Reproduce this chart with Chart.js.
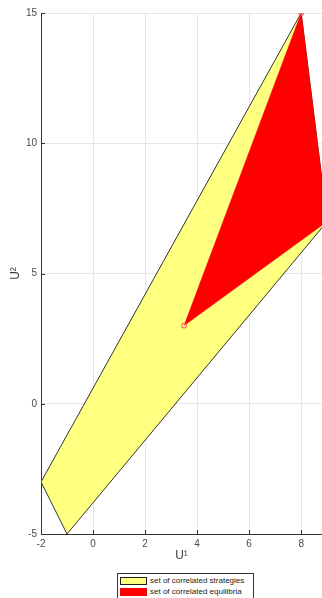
<!DOCTYPE html>
<html>
<head>
<meta charset="utf-8">
<script src="https://cdn.jsdelivr.net/npm/chart.js@4.4.1/dist/chart.umd.min.js"></script>
<style>
  html, body { margin: 0; padding: 0; background: #fff; overflow: hidden; }
  #wrap { position: relative; width: 322px; height: 598px; }
  #legenda {
    position: absolute; left: 117px; top: 573px; width: 135px; height: 30px;
    border: 1px solid #333; background: #fff;
    font: 8px "Liberation Sans", Arial, sans-serif; color: #222;
  }
  #legenda div { position: absolute; left: 2px; height: 10px; line-height: 10px; white-space: nowrap; }
  #legenda span { display: inline-block; width: 27px; height: 8px; vertical-align: middle; margin-right: 3px; box-sizing: border-box; }
</style>
</head>
<body>
<div id="wrap">
  <canvas id="grafico" width="322" height="598"></canvas>
  <div id="legenda"></div>
</div>
<script>
// Vertices dos conjuntos (U1, U2)
const estrategiasU1 = [-2, 8, 9, -1];
const estrategiasU2 = [-3, 15, 7, -5];
const equilibriosU1 = [3.5, 8, 9];
const equilibriosU2 = [3, 15, 7];
// Pontos marcados
const marcadosU1 = [3.5, 8];
const marcadosU2 = [3, 15];

const rotulos = ['set of correlated strategies', 'set of correlated equilibria'];
const ticksX = [-2, 0, 2, 4, 6, 8];
const ticksY = [-5, 0, 5, 10, 15];

function poligono(xs, ys) {
    const pts = xs.map((x, i) => ({ x: x, y: ys[i] }));
    pts.push(pts[0]); // fecha o poligono
    return pts;
}

// Marcas dos ticks para dentro (estilo MATLAB)
const ticksDentro = {
  id: 'ticksDentro',
  afterDraw(chart) {
    const { ctx, chartArea, scales: { x, y } } = chart;
    ctx.save();
    ctx.strokeStyle = '#333';
    ctx.lineWidth = 1;
    ctx.beginPath();
    ticksX.forEach(v => {
      const px = Math.round(x.getPixelForValue(v)) + 0.5;
      ctx.moveTo(px, chartArea.bottom);
      ctx.lineTo(px, chartArea.bottom - 4);
    });
    ticksY.forEach(v => {
      const py = Math.round(y.getPixelForValue(v)) + 0.5;
      ctx.moveTo(chartArea.left, py);
      ctx.lineTo(chartArea.left + 4, py);
    });
    ctx.stroke();
    ctx.restore();
  }
};

const fonte = { family: '"Liberation Sans", Arial, sans-serif', size: 10 };

const chart = new Chart(document.getElementById('grafico'), {
  type: 'scatter',
  data: {
    datasets: [
      {
        label: rotulos[0],
        data: poligono(estrategiasU1, estrategiasU2),
        order: 3,
        showLine: true,
        fill: 'shape',
        backgroundColor: '#ffff80',
        borderColor: '#333',
        borderWidth: 1,
        pointRadius: 0,
        tension: 0
      },
      {
        label: rotulos[1],
        data: poligono(equilibriosU1, equilibriosU2),
        order: 2,
        showLine: true,
        fill: 'shape',
        backgroundColor: '#ff0000',
        borderColor: '#ff0000',
        borderWidth: 0.5,
        pointRadius: 0,
        tension: 0
      },
      {
        label: 'pontos',
        data: marcadosU1.map((x, i) => ({ x: x, y: marcadosU2[i] })),
        order: 1,
        showLine: false,
        pointRadius: 2.5,
        pointBorderWidth: 1,
        pointBorderColor: '#ff4040',
        pointBackgroundColor: 'rgba(255,255,255,0.25)'
      }
    ]
  },
  options: {
    responsive: false,
    animation: false,
    layout: { autoPadding: false, padding: { top: 13, left: 8, right: 0, bottom: 35 } },
    plugins: { legend: { display: false }, tooltip: { enabled: false } },
    scales: {
      x: {
        type: 'linear',
        min: -2,
        max: 8.8,
        afterFit: s => { s.height = 29; s.paddingRight = 0; s.paddingLeft = 0; },
        afterBuildTicks: s => { s.ticks = ticksX.map(v => ({ value: v })); },
        ticks: { font: fonte, color: '#4a4a4a', padding: 4, includeBounds: false },
        grid: { color: '#e6e6e6', drawTicks: false },
        border: { display: true, color: '#333', width: 1 },
        title: { display: true, text: 'U¹', font: { family: fonte.family, size: 12 }, color: '#3a3a3a', padding: 0 }
      },
      y: {
        type: 'linear',
        min: -5,
        max: 15,
        afterFit: s => { s.width = 33; },
        afterBuildTicks: s => { s.ticks = ticksY.map(v => ({ value: v })); },
        ticks: { font: fonte, color: '#4a4a4a', padding: 4 },
        grid: { color: '#e6e6e6', drawTicks: false },
        border: { display: true, color: '#333', width: 1 },
        title: { display: true, text: 'U²', font: { family: fonte.family, size: 12 }, color: '#3a3a3a', padding: 0 }
      }
    }
  },
  plugins: [ticksDentro]
});

// Legenda com caixa
const legenda = document.getElementById('legenda');
const cores = [['#ffff80', '1px solid #222'], ['#ff0000', 'none']];
rotulos.forEach((r, i) => {
  const d = document.createElement('div');
  d.style.top = (2 + i * 11) + 'px';
  const s = document.createElement('span');
  s.style.background = cores[i][0];
  s.style.border = cores[i][1];
  d.appendChild(s);
  d.appendChild(document.createTextNode(r));
  legenda.appendChild(d);
});
</script>
</body>
</html>
